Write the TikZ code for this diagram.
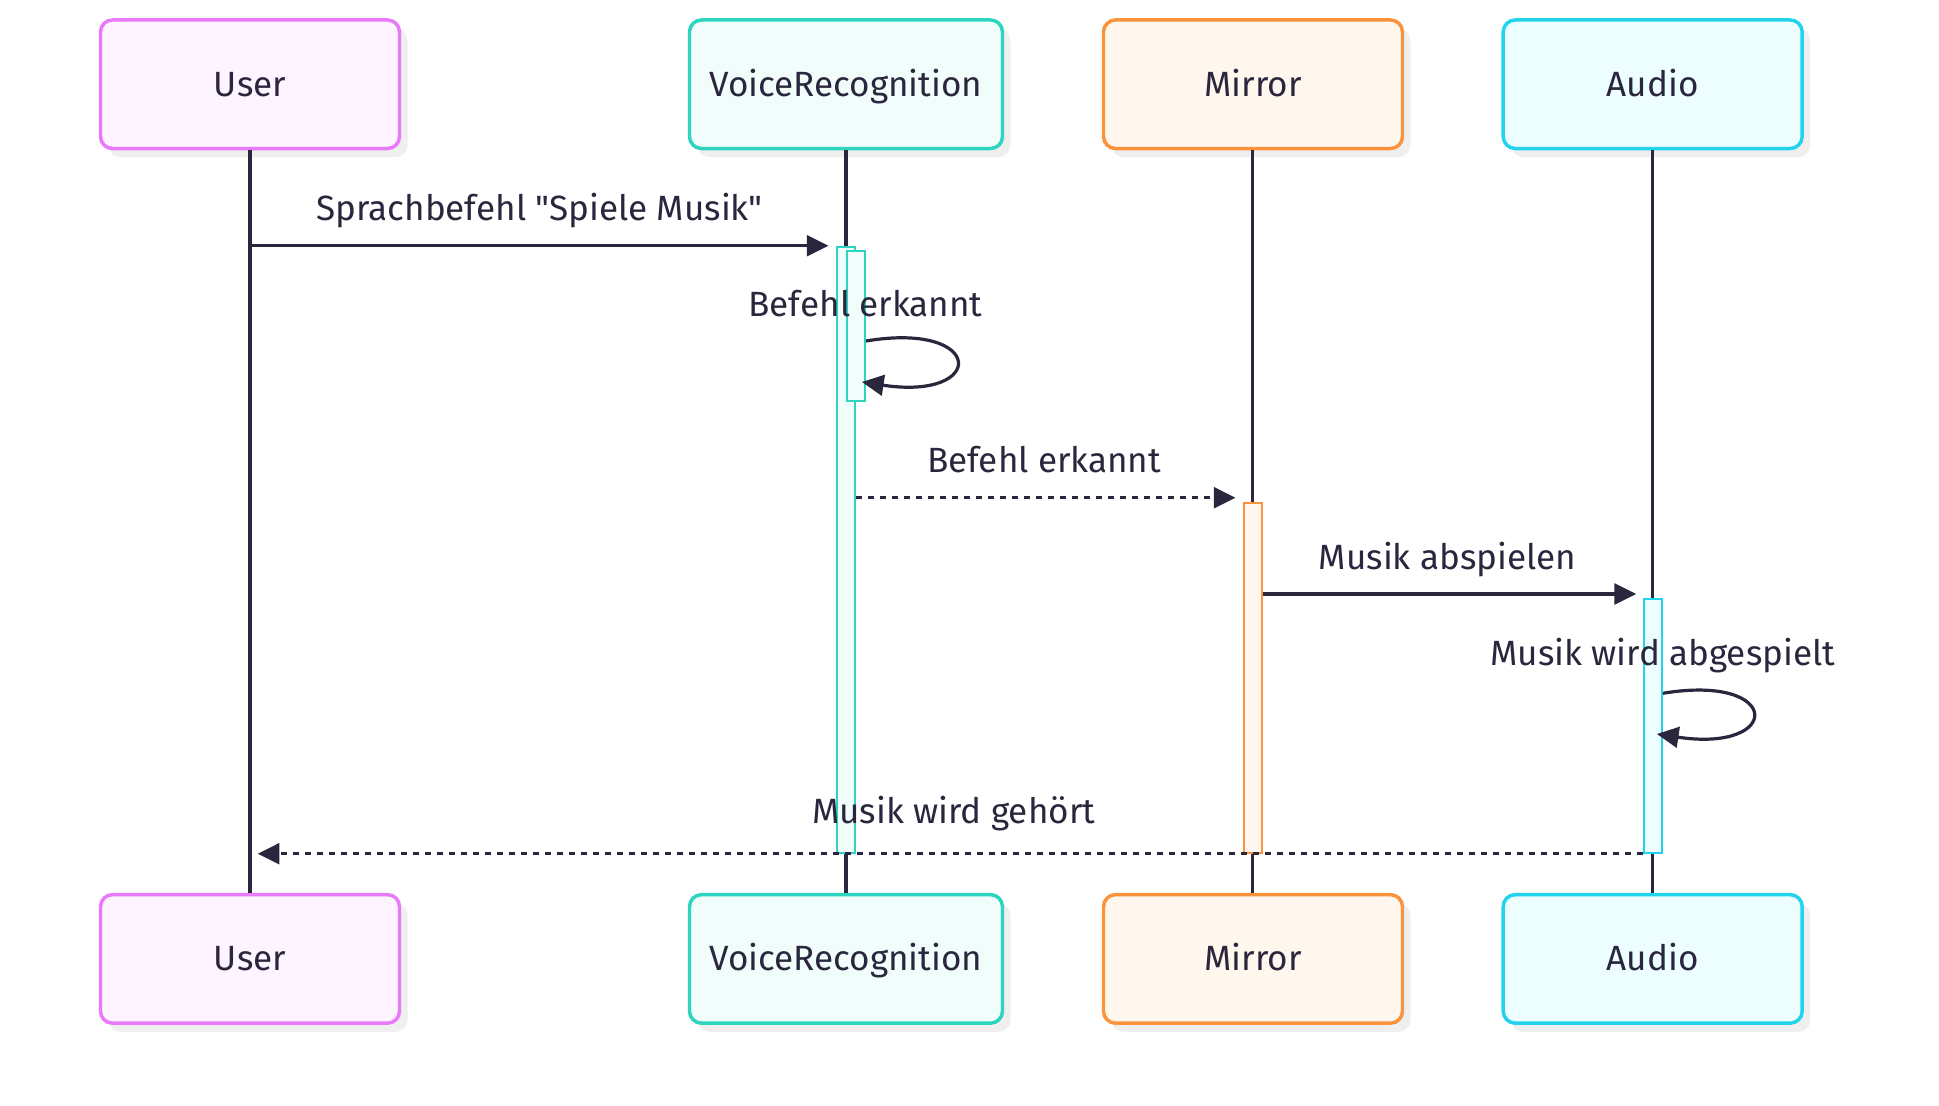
\documentclass[tikz,border=0pt]{standalone}
\usepackage{fontspec}
\setmainfont{Fira Sans}[Ligatures=TeXOff]
\usetikzlibrary{arrows.meta,shadows,calc}
\definecolor{ink}{HTML}{29263D}
\definecolor{shadowgray}{HTML}{EFEFEF}
\definecolor{pinkS}{HTML}{E879F9}\definecolor{pinkF}{HTML}{FDF4FF}
\definecolor{tealS}{HTML}{2DD4BF}\definecolor{tealF}{HTML}{F0FDFA}
\definecolor{orgS}{HTML}{FB923C}\definecolor{orgF}{HTML}{FFF7ED}
\definecolor{cyanS}{HTML}{22D3EE}\definecolor{cyanF}{HTML}{ECFEFF}
\newcommand{\lblfont}{\fontsize{26.3}{31}\selectfont}
\tikzset{
  part/.style 2 args={draw=#1, fill=#2, line width=2.6pt, rounded corners=9pt,
    minimum width=224.25pt, minimum height=96.4pt, inner sep=0pt,
    text height=18.1pt, text depth=0pt,
    font=\lblfont, text=ink,
    drop shadow={shadow xshift=6pt, shadow yshift=-6.5pt, fill=shadowgray, opacity=1}},
  actbox/.style 2 args={draw=#1, fill=#2, line width=1.5pt, minimum width=13.7pt,
    inner sep=0pt},
  lifeline/.style={draw=ink, line width=2.6pt},
  msg/.style={draw=ink, line width=2.4pt, -{Triangle[length=16.3pt,width=15.5pt]}},
  dotmsg/.style={msg, line width=2.6pt, dash pattern=on 4.3pt off 4.7pt},
  lbl/.style={font=\lblfont, text=ink, anchor=base, inner sep=0pt},
}
\begin{document}
\begin{tikzpicture}[x=0.75pt,y=-0.75pt]
\useasboundingbox[fill=white] (0,0) rectangle (1939,1106);

% participants (top)
\node[part={pinkS}{pinkF}] (uT) at (250,84.25) {User};
\node[part={tealS}{tealF}, minimum width=234.75pt] (vT) at (846,84.25) {VoiceRecognition};
\node[part={orgS}{orgF}] (mT) at (1253,84.25) {Mirror};
\node[part={cyanS}{cyanF}] (aT) at (1652.7,84.25) {Audio};
% participants (bottom)
\node[part={pinkS}{pinkF}] (uB) at (250,958.9) {User};
\node[part={tealS}{tealF}, minimum width=234.75pt] (vB) at (846,958.9) {VoiceRecognition};
\node[part={orgS}{orgF}] (mB) at (1253,958.9) {Mirror};
\node[part={cyanS}{cyanF}] (aB) at (1652.7,958.9) {Audio};

% lifelines
\draw[lifeline] (uT.south) -- (uB.north);
\draw[lifeline] (vT.south) -- (vB.north);
\draw[lifeline] ([xshift=-0.2pt]mT.south) -- ([xshift=-0.2pt]mB.north);
\draw[lifeline] (aT.south) -- (aB.north);

% activations
\node[actbox={tealS}{tealF}, minimum height=454.5pt] (a1) at (846,549.7) {};
\node[actbox={tealS}{tealF}, minimum height=112.7pt] (a2) at (855.8,325.8) {};
\node[actbox={orgS}{orgF}, minimum height=262.7pt] (ma) at (1252.7,677.8) {};
\node[actbox={cyanS}{cyanF}, minimum height=190.7pt] (aa) at (1652.7,725.8) {};

% message y-levels
\coordinate (y1) at (0,245.7);
\coordinate (y2) at (0,497.7);
\coordinate (y3) at (0,594);
\coordinate (y4) at (0,853.7);

% messages
\draw[msg, shorten >=5.5pt] (uT.south |- y1) -- (a1.west |- y1);
\node[lbl] (t1) at (539.6,220) {Sprachbefehl "Spiele Musik"};

\coordinate (l1s) at (a2.east |- 0,341);
\coordinate (l1e) at ($(a2.east |- 0,382)+(-4,0)$);
\draw[msg] (l1s) .. controls +(120,-20) and +(125,19) .. (l1e);
\node[lbl] (t2) at (865.5,316.7) {Befehl erkannt};

\draw[dotmsg, shorten >=5.3pt] (a1.east |- y2) -- (ma.west |- y2);
\node[lbl] (t3) at (1044,472.3) {Befehl erkannt};

\draw[msg, shorten >=4.8pt] (ma.east |- y3) -- (aa.west |- y3);
\node[lbl] (t4) at (1447.5,569.3) {Musik abspielen};

\coordinate (l2s) at (aa.east |- 0,693.3);
\coordinate (l2e) at ($(aa.east |- 0,734)+(-6,0)$);
\draw[msg] (l2s) .. controls +(120,-20) and +(126,19) .. (l2e);
\node[lbl] (t5) at (1662.7,665) {Musik wird abgespielt};

\draw[dotmsg, shorten >=5.8pt] (aa.west |- y4) -- (uT.south |- y4);
\node[lbl] (t6) at (953.7,823.3) {Musik wird gehört};
\end{tikzpicture}
\end{document}
